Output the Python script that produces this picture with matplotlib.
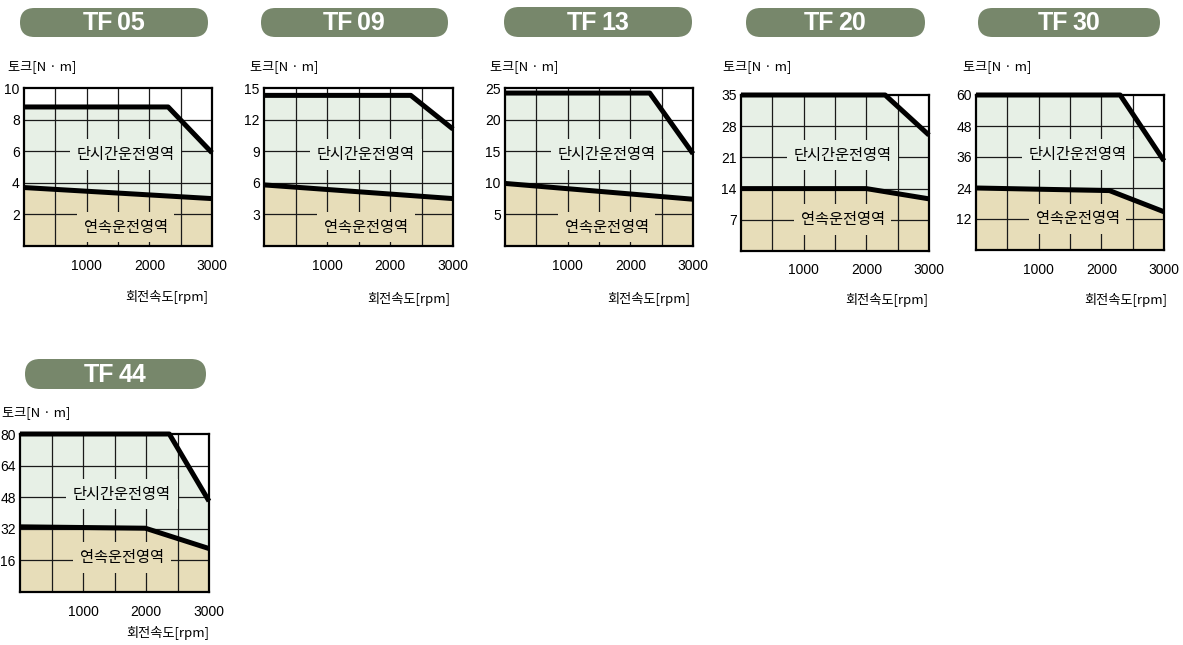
import numpy as np
import matplotlib
matplotlib.use("Agg")
import matplotlib.pyplot as plt
from matplotlib.patches import FancyBboxPatch

# 모델별 토크-속도 곡선 (읽어낸 값)
models = ["TF05", "TF09", "TF13", "TF20", "TF30", "TF44"]
y_max = [10, 15, 25, 35, 60, 80]
y_step = [2, 3, 5, 7, 12, 16]

# 단시간 운전 영역 상한 (최대 토크)
peak_rpm = [[0, 2300, 3000], [0, 2330, 3000], [0, 2310, 3000],
            [0, 2300, 3000], [0, 2300, 3000], [0, 2370, 3000]]
peak_trq = [[8.8, 8.8, 5.9], [14.3, 14.3, 11.1], [24.2, 24.2, 14.6],
            [35, 35, 26.0], [60, 60, 34.5], [80, 80, 46]]

# 연속 운전 영역 상한 (정격 토크)
cont_rpm = [[0, 3000], [0, 3000], [0, 3000],
            [0, 2000, 3000], [0, 2130, 3000], [0, 1990, 3000]]
cont_trq = [[3.7, 3.0], [5.8, 4.5], [9.9, 7.4],
            [14, 14, 11.7], [24, 23, 14.8], [33, 32.3, 22]]

x_ticks = [1000, 2000, 3000]
x_grid = [500, 1000, 1500, 2000, 2500]

# 픽셀 단위 레이아웃: 축 (left, top, right, bottom), 제목 (left, top, right, bottom)
axes_px = [(24, 88, 212, 246), (264, 88, 453, 246), (505, 88, 693, 246),
           (741, 95, 929, 251), (976, 95, 1164, 250), (20, 434, 209, 592)]
pill_px = [(20, 8, 208, 37), (261, 8, 448, 37), (504, 7, 692, 37),
           (746, 8, 925, 37), (978, 8, 1160, 37), (25, 359, 206, 389)]
ylab_px = [(8, 67), (250, 67), (490, 67), (723, 67), (963, 67), (2, 413)]
xlab_px = [(208, 297), (450, 299), (690, 299), (928, 300), (1167, 300), (209, 633)]
txt_hi = [0.58, 0.58, 0.58, 0.615, 0.615, 0.62]
txt_lo = [0.12, 0.12, 0.12, 0.2, 0.2, 0.22]

W, H = 1183, 645
GREEN = "#e7f0e6"
TAN = "#e7ddb9"
PILL = "#77876b"
kr = ["Noto Sans CJK KR", "DejaVu Sans"]
num = ["Liberation Sans", "DejaVu Sans"]

fig = plt.figure(figsize=(W / 100, H / 100), dpi=100)
over = fig.add_axes([0, 0, 1, 1], zorder=5)
over.set_xlim(0, W)
over.set_ylim(H, 0)
over.axis("off")
over.patch.set_alpha(0)

for i, name in enumerate(models):
    l, t, r, b = axes_px[i]
    ax = fig.add_axes([l / W, 1 - b / H, (r - l) / W, (b - t) / H])
    ax.set_xlim(0, 3000)
    ax.set_ylim(0, y_max[i])

    xs = np.linspace(0, 3000, 301)
    pk = np.interp(xs, peak_rpm[i], peak_trq[i])
    ct = np.interp(xs, cont_rpm[i], cont_trq[i])
    ax.fill_between(xs, 0, ct, color=TAN, lw=0, zorder=1)
    ax.fill_between(xs, ct, pk, color=GREEN, lw=0, zorder=1)

    for gx in x_grid:
        ax.axvline(gx, color="#1a1a1a", lw=0.9, zorder=2)
    yt = np.arange(y_step[i], y_max[i], y_step[i])
    for gy in yt:
        ax.axhline(gy, color="#1a1a1a", lw=0.9, zorder=2)

    ax.plot(peak_rpm[i], peak_trq[i], color="black", lw=3.6,
            solid_capstyle="butt", zorder=4, clip_on=False)
    ax.plot(cont_rpm[i], cont_trq[i], color="black", lw=3.6,
            solid_capstyle="butt", zorder=4)

    ax.text(0.54, txt_hi[i], "단시간운전영역", transform=ax.transAxes,
            ha="center", va="center", fontsize=11, family=kr, zorder=3,
            bbox=dict(boxstyle="square,pad=0.45", fc=GREEN, ec="none"))
    ax.text(0.54, txt_lo[i], "연속운전영역", transform=ax.transAxes,
            ha="center", va="center", fontsize=11, family=kr, zorder=3,
            bbox=dict(boxstyle="square,pad=0.45", fc=TAN, ec="none"))

    ax.set_xticks(x_ticks)
    ax.set_xticklabels([str(v) for v in x_ticks], family=num, fontsize=10)
    ax.set_yticks(list(yt) + [y_max[i]])
    ax.set_yticklabels([str(v) for v in list(yt) + [y_max[i]]],
                       family=num, fontsize=10)
    ax.tick_params(axis="both", length=0)
    ax.tick_params(axis="x", pad=9)
    ax.tick_params(axis="y", pad=3)
    for sp in ax.spines.values():
        sp.set_linewidth(1.6)
        sp.set_color("black")
        sp.set_zorder(5)

    # 축 제목
    over.text(xlab_px[i][0], xlab_px[i][1], "회전속도[rpm]", ha="right",
              va="center", fontsize=9.5, family=kr)
    over.text(ylab_px[i][0], ylab_px[i][1], "토크[N · m]", ha="left",
              va="center", fontsize=9.5, family=kr)

    # 모델명 배지
    pl, pt, pr, pb = pill_px[i]
    h = pb - pt
    cx, cy = (pl + pr) / 2, (pt + pb) / 2 + 1
    over.add_patch(FancyBboxPatch((pl, pt), pr - pl, h,
                                  boxstyle=f"round,pad=0,rounding_size={h / 2}",
                                  fc=PILL, ec="none"))
    over.text(cx - 1, cy, name[:2], ha="right", va="center", color="white",
              fontsize=18, fontweight="bold", family=num)
    over.text(cx + 3, cy, name[2:], ha="left", va="center", color="white",
              fontsize=18, fontweight="bold", family=num)

fig.savefig("out.png", dpi=100)
